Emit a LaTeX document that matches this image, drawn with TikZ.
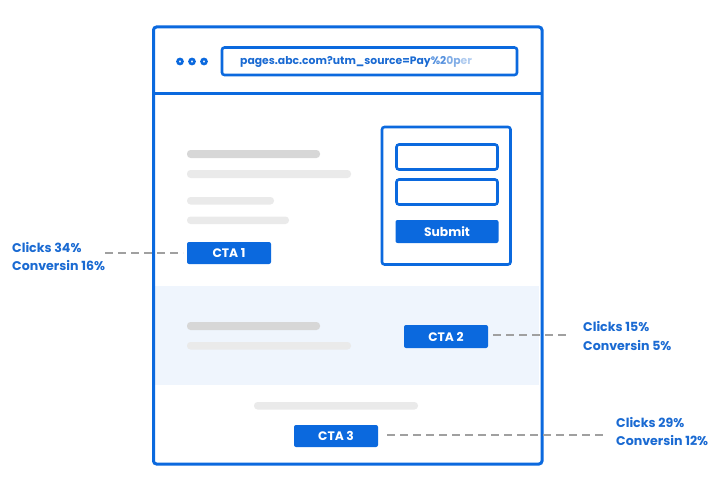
\documentclass[tikz,border=0pt]{standalone}
\usepackage{fontspec}
\setmainfont{Poppins}
\definecolor{brand}{HTML}{0B69DE}
\definecolor{labelblue}{HTML}{1A6AD2}
\definecolor{bardark}{HTML}{D7D7D7}
\definecolor{barlight}{HTML}{EAEAEA}
\definecolor{section}{HTML}{EFF5FD}
\definecolor{dashgray}{HTML}{A0A0A0}
\begin{document}
\begin{tikzpicture}[x=1pt,y=-1pt,
  frame/.style={draw=brand,line width=3pt,rounded corners=3pt},
  thinframe/.style={draw=brand,line width=2.6pt,rounded corners=2.5pt},
  btn/.style={fill=brand,rounded corners=2pt},
  btntext/.style={text=white,font=\bfseries\fontsize{12.3}{13}\selectfont,inner sep=0pt},
  bar/.style={rounded corners=3.5pt},
  conn/.style={draw=dashgray,line width=2pt,dash pattern=on 8pt off 5pt},
  stat/.style={text=labelblue,font=\bfseries\fontsize{12.6}{18.5}\selectfont,align=left,inner sep=0pt,anchor=west},
  dot/.style={circle,draw=brand,line width=2.6pt,minimum size=5pt,inner sep=0pt}]
\useasboundingbox (0,0) rectangle (722,500);
% light section
\fill[section] (155,286) rectangle (539,385);
% browser frame
\draw[frame] (153.5,27) rectangle (542,464);
\draw[draw=brand,line width=3pt] (153.5,94) -- (542,94);
% dots
\node[dot] (d1) at (180,61.5) {};
\node[dot] (d2) at (192,61.5) {};
\node[dot] (d3) at (204,61.5) {};
% url bar
\draw[thinframe] (222,47.5) rectangle (517,75);
\node[anchor=west,inner sep=0pt,font=\bfseries\fontsize{10.8}{12}\selectfont] (url) at (240,61.5)
  {\textcolor{labelblue}{pages.abc.com?utm\_source=Pay}\textcolor{labelblue!75}{\%2}\textcolor{labelblue!55}{0p}\textcolor{labelblue!35}{er}};
% gray text bars top
\fill[bardark,bar] (187,150) rectangle (320,158);
\fill[barlight,bar] (187,170) rectangle (351,178);
\fill[barlight,bar] (187,197) rectangle (274,204.5);
\fill[barlight,bar] (187,216.5) rectangle (289,224);
% form
\draw[thinframe] (382,127) rectangle (510.5,264.5);
\draw[thinframe] (396.5,144.5) rectangle (497.5,169.5);
\draw[thinframe] (396.5,179.5) rectangle (497.5,204.5);
\fill[btn] (395.5,220) rectangle (498.5,243);
\node[btntext] (submit) at (447,231.5) {Submit};
% CTA 1
\fill[btn] (187,242) rectangle (271,264);
\node[btntext] (cta1) at (229,253) {CTA 1};
\coordinate (cta1w) at (183,252.5);
% section bars
\fill[bardark,bar] (187,322) rectangle (320,330);
\fill[barlight,bar] (187,342) rectangle (351,349.5);
% CTA 2
\fill[btn] (404,325) rectangle (488,348);
\node[btntext] (cta2) at (446,336.5) {CTA 2};
\coordinate (cta2e) at (493,334.5);
% bottom bar
\fill[barlight,bar] (254,402) rectangle (418,409.5);
% CTA 3
\fill[btn] (294,425) rectangle (378,447);
\node[btntext] (cta3) at (336,436) {CTA 3};
\coordinate (cta3e) at (387,434.5);
% stats
\node[stat] (s1) at (12,256.5) {Clicks 34\%\\Conversin 16\%};
\node[stat] (s2) at (583,336) {Clicks 15\%\\Conversin 5\%};
\node[stat] (s3) at (616,431.5) {Clicks 29\%\\Conversin 12\%};
% connectors
\draw[conn] (105,252.5) -- (cta1w);
\draw[conn] (cta2e) -- (570,334.5);
\draw[conn] (cta3e) -- (603,434.5);
\end{tikzpicture}
\end{document}
